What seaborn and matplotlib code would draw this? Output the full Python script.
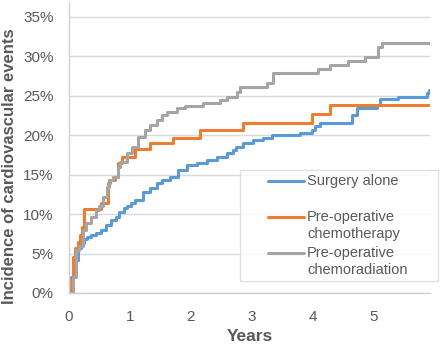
import numpy as np
import pandas as pd
import matplotlib
matplotlib.use("Agg")
import matplotlib.pyplot as plt
import seaborn as sns
from matplotlib.ticker import PercentFormatter
from matplotlib.lines import Line2D
from matplotlib.legend_handler import HandlerLine2D

# cumulative incidence (%), years
surgery_t = [0, 0.03, 0.08, 0.15, 0.20, 0.25, 0.30, 0.36, 0.44, 0.52, 0.61, 0.69, 0.77,
             0.82, 0.90, 0.95, 1.02, 1.08, 1.21, 1.33, 1.44, 1.52, 1.66, 1.79, 1.93,
             2.10, 2.26, 2.43, 2.59, 2.69, 2.74, 2.85, 3.02, 3.18, 3.33, 3.79, 3.98,
             4.03, 4.11, 4.64, 4.72, 5.05, 5.10, 5.39, 5.87, 5.90]
surgery_y = [0, 2.0, 4.2, 5.7, 6.3, 6.8, 7.1, 7.3, 7.6, 8.0, 8.6, 9.2, 9.7,
             10.3, 10.8, 11.0, 11.4, 11.8, 12.8, 13.3, 13.9, 14.3, 14.7, 15.6, 16.2,
             16.5, 16.9, 17.3, 17.7, 18.1, 18.5, 19.0, 19.4, 19.6, 20.0, 20.3, 20.7,
             21.2, 21.5, 22.6, 23.4, 23.8, 24.6, 24.9, 25.4, 25.7]

chemo_t = [0, 0.02, 0.06, 0.10, 0.14, 0.18, 0.21, 0.25, 0.52, 0.64, 0.67, 0.75, 0.80,
           0.87, 1.08, 1.33, 1.70, 2.15, 2.85, 3.98, 4.28, 5.92]
chemo_y = [0, 1.6, 4.6, 5.7, 6.5, 7.4, 8.4, 10.6, 11.4, 13.9, 14.3, 14.7, 16.5,
           17.2, 18.3, 19.0, 19.6, 20.7, 21.6, 22.7, 23.8, 23.8]

chemorad_t = [0, 0.06, 0.115, 0.16, 0.23, 0.28, 0.36, 0.44, 0.49, 0.56, 0.62, 0.66,
              0.72, 0.80, 0.84, 0.95, 1.03, 1.13, 1.25, 1.33, 1.44, 1.52, 1.61, 1.77,
              1.90, 2.20, 2.48, 2.59, 2.75, 2.80, 3.25, 3.34, 4.08, 4.28, 4.57, 4.85,
              5.07, 5.13, 5.92]
chemorad_y = [0, 2.0, 5.5, 6.0, 8.0, 8.9, 9.6, 10.5, 11.0, 12.2, 13.4, 14.3,
              14.7, 16.0, 16.6, 17.7, 18.5, 19.8, 20.7, 21.3, 21.9, 22.6, 23.0, 23.4,
              23.7, 24.1, 24.5, 24.9, 25.5, 26.1, 26.6, 27.9, 28.4, 28.9, 29.4, 29.9,
              31.2, 31.7, 31.7]

groups = ["Surgery alone\n ", "Pre-operative\nchemotherapy", "Pre-operative\nchemoradiation"]
colors = ["#5B9BD5", "#ED7D31", "#A5A5A5"]

df = pd.concat([
    pd.DataFrame({"Years": surgery_t, "Incidence": surgery_y, "Group": groups[0]}),
    pd.DataFrame({"Years": chemo_t, "Incidence": chemo_y, "Group": groups[1]}),
    pd.DataFrame({"Years": chemorad_t, "Incidence": chemorad_y, "Group": groups[2]}),
])


# legend line sits on the first text line, right next to the label
class TopLineHandler(HandlerLine2D):
    def create_artists(self, legend, orig_handle, xdescent, ydescent, width, height, fontsize, trans):
        arts = super().create_artists(legend, orig_handle, xdescent, ydescent, width, height, fontsize, trans)
        for a in arts:
            n = len(a.get_xdata())
            a.set_ydata(np.asarray(a.get_ydata(), dtype=float) + 0.6 * fontsize)
            a.set_xdata(np.linspace(width - 26, width, n))
        return arts


sns.set_style("white")
plt.rcParams["font.family"] = ["Liberation Sans", "DejaVu Sans"]

fig = plt.figure(figsize=(4.4, 3.46), dpi=100)
ax = fig.add_axes([69 / 440, 1 - 293 / 346, 361 / 440, 291 / 346])

sns.lineplot(data=df, x="Years", y="Incidence", hue="Group", hue_order=groups,
             palette=colors, drawstyle="steps-post", linewidth=2.2,
             estimator=None, ax=ax)

ax.set_xlim(0, 5.92)
ax.set_ylim(0, 36.9)
ax.set_yticks(np.arange(0, 36, 5))
ax.set_xticks(range(6))
ax.yaxis.set_major_formatter(PercentFormatter(decimals=0))
ax.grid(axis="y", color="#d9d9d9", linewidth=1)
ax.set_axisbelow(True)
for s in ["top", "right"]:
    ax.spines[s].set_visible(False)
for s in ["left", "bottom"]:
    ax.spines[s].set_color("#d0d0d0")
    ax.spines[s].set_linewidth(1)
ax.tick_params(axis="x", length=4, color="#d0d0d0", labelsize=11, labelcolor="#595959", pad=8)
ax.tick_params(axis="y", length=0, labelsize=11, labelcolor="#595959", pad=11)

ax.set_xlabel("Years", fontsize=12.5, fontweight="bold", color="#595959")
ax.set_ylabel("Incidence of cardiovascular events", fontsize=12, fontweight="bold", color="#595959")
ax.xaxis.set_label_coords(0.5, -0.125)
ax.yaxis.set_label_coords(-0.145, 0.436)

leg = ax.legend(loc="upper left", bbox_to_anchor=(240 / 440, 1 - 170 / 346 - 0.1, 198 / 440, 0.1),
                bbox_transform=fig.transFigure, mode="expand", borderaxespad=0,
                fontsize=10.5, frameon=True, fancybox=False, handlelength=4.1,
                handletextpad=0.2, labelspacing=0.4, borderpad=0.3, labelcolor="#595959",
                handler_map={Line2D: TopLineHandler()})
leg.get_frame().set_edgecolor("#d9d9d9")
leg.get_frame().set_linewidth(1)

fig.savefig("out.png", dpi=100)
